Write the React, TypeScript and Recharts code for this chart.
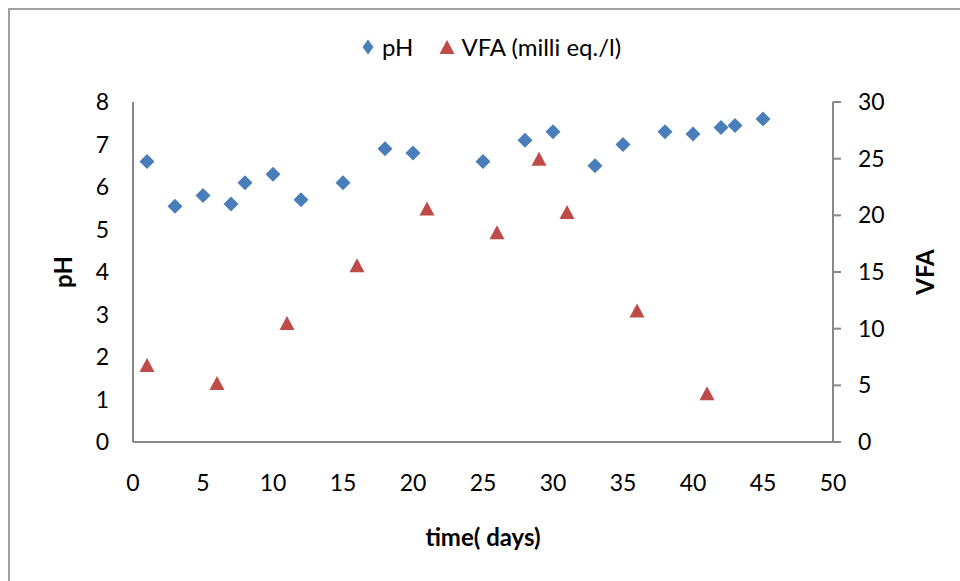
import {
  ScatterChart,
  Scatter,
  XAxis,
  YAxis,
  Legend,
  Label,
} from "recharts";

// days and readings for each series
const phDays = [1, 3, 5, 7, 8, 10, 12, 15, 18, 20, 25, 28, 30, 33, 35, 38, 40, 42, 43, 45];
const phValues = [6.6, 5.55, 5.8, 5.6, 6.1, 6.3, 5.7, 6.1, 6.9, 6.8, 6.6, 7.1, 7.3, 6.5, 7.0, 7.3, 7.25, 7.4, 7.45, 7.6];
const vfaDays = [1, 6, 11, 16, 21, 26, 29, 31, 36, 41];
const vfaValues = [6.8, 5.2, 10.5, 15.6, 20.6, 18.5, 25.0, 20.3, 11.6, 4.3];

const xTicks = [0, 5, 10, 15, 20, 25, 30, 35, 40, 45, 50];
const phTicks = [0, 1, 2, 3, 4, 5, 6, 7, 8];
const vfaTicks = [0, 5, 10, 15, 20, 25, 30];

const phData = phDays.map((day, i) => ({ day, ph: phValues[i] }));
const vfaData = vfaDays.map((day, i) => ({ day, vfa: vfaValues[i] }));

const PH_NAME = "pH";
const VFA_NAME = "VFA (milli eq./l)";

const BLUE = "#4a7ebb";
const RED = "#be4b48";
const AXIS = "#888888";
const FONT = "Lato, 'Open Sans', sans-serif";

const Diamond = (props: any) => {
  const { cx, cy } = props;
  const r = 7.5;
  return <polygon points={`${cx},${cy - r} ${cx + r},${cy} ${cx},${cy + r} ${cx - r},${cy}`} fill={BLUE} />;
};

const Triangle = (props: any) => {
  const { cx, cy } = props;
  return <polygon points={`${cx},${cy - 7} ${cx + 7.5},${cy + 7} ${cx - 7.5},${cy + 7}`} fill={RED} />;
};

function LegendContent(props: any) {
  const items = [...(props.payload || [])].sort(
    (a: any, b: any) => (a.value === PH_NAME ? 0 : 1) - (b.value === PH_NAME ? 0 : 1)
  );
  return (
    <div style={{ display: "flex", alignItems: "center", fontFamily: FONT, fontSize: 24, color: "#000" }}>
      {items.map((it: any, i: number) => (
        <div key={i} style={{ display: "flex", alignItems: "center", marginRight: 26 }}>
          <svg width={16} height={16} style={{ marginRight: 6 }}>
            {it.value === PH_NAME ? (
              <polygon points="8,0.5 13.5,8 8,15.5 2.5,8" fill={BLUE} />
            ) : (
              <polygon points="8,1 15.5,15 0.5,15" fill={RED} />
            )}
          </svg>
          <span>{it.value}</span>
        </div>
      ))}
    </div>
  );
}

const tickStyle = { fill: "#000", fontSize: 23, fontFamily: FONT };
const titleStyle = { fontFamily: FONT, fontWeight: 700, fontSize: 24, fill: "#000" };

export default function App() {
  return (
    <div style={{ position: "absolute", left: 0, top: 0, width: 960, height: 581, background: "#fff" }}>
      <div
        style={{
          position: "absolute",
          left: 8,
          top: 8,
          width: 952,
          height: 573,
          boxSizing: "border-box",
          borderLeft: "2px solid #a0a0a0",
          borderTop: "2px solid #a0a0a0",
        }}
      />
      <ScatterChart
        width={960}
        height={581}
        margin={{ top: 102, left: -7, right: -57, bottom: -51 }}
        style={{ position: "absolute", left: 0, top: 0 }}
      >
        <XAxis
          type="number"
          dataKey="day"
          domain={[0, 50]}
          ticks={xTicks}
          height={190}
          stroke={AXIS}
          strokeWidth={2}
          tickLine={false}
          tickSize={0}
          tickMargin={33}
          tick={tickStyle}
        >
          <Label value="time( days)" position="center" style={titleStyle} />
        </XAxis>
        <YAxis
          yAxisId="left"
          type="number"
          dataKey="ph"
          domain={[0, 8]}
          ticks={phTicks}
          width={140}
          stroke={AXIS}
          strokeWidth={2}
          tickLine={false}
          tickSize={0}
          tickMargin={24}
          tick={tickStyle}
        >
          <Label value="pH" angle={-90} position="center" style={titleStyle} />
        </YAxis>
        <YAxis
          yAxisId="right"
          orientation="right"
          type="number"
          dataKey="vfa"
          domain={[0, 30]}
          ticks={vfaTicks}
          width={184}
          stroke={AXIS}
          strokeWidth={2}
          tickSize={8}
          tickMargin={17}
          tick={tickStyle}
        >
          <Label value="VFA" angle={-90} position="center" style={titleStyle} />
        </YAxis>
        <Legend
          layout="horizontal"
          verticalAlign="middle"
          align="center"
          wrapperStyle={{ top: 32, left: 360, width: 340 }}
          content={LegendContent}
        />
        <Scatter
          name={PH_NAME}
          data={phData}
          yAxisId="left"
          dataKey="ph"
          fill={BLUE}
          shape={Diamond}
          isAnimationActive={false}
        />
        <Scatter
          name={VFA_NAME}
          data={vfaData}
          yAxisId="right"
          dataKey="vfa"
          fill={RED}
          shape={Triangle}
          isAnimationActive={false}
        />
      </ScatterChart>
    </div>
  );
}
